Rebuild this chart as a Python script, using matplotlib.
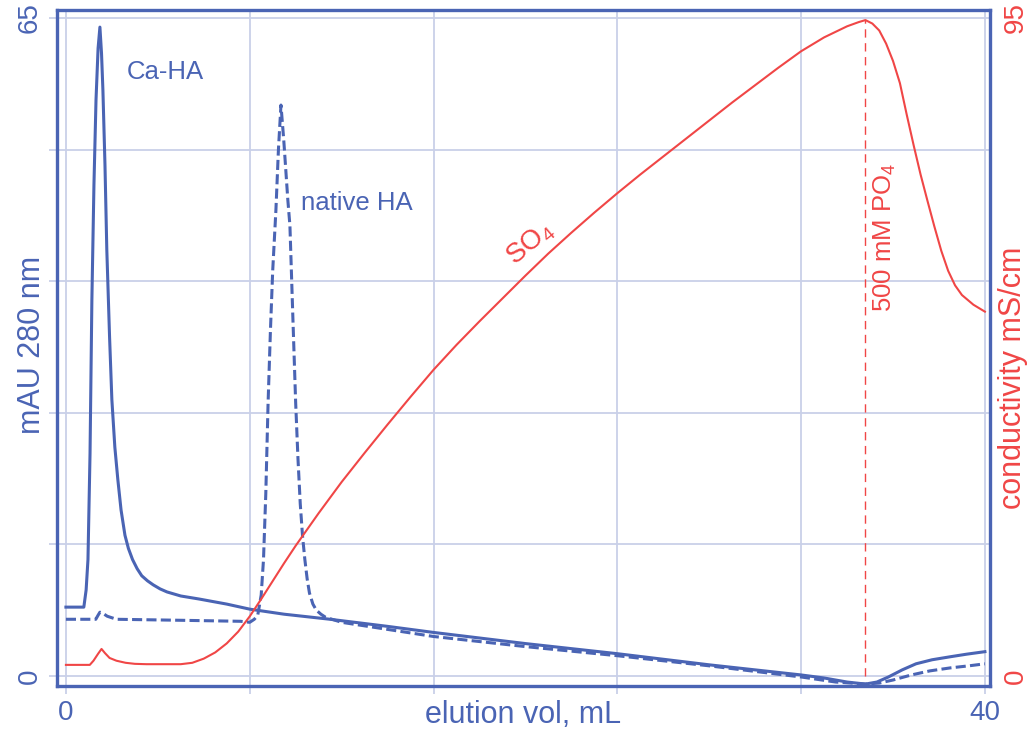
import matplotlib
matplotlib.use("Agg")
import matplotlib.pyplot as plt

# colours
blue = "#4a64b4"
red = "#f04646"
grid_col = "#c9d0e8"

plt.rcParams["font.family"] = ["Liberation Sans", "DejaVu Sans"]
plt.rcParams["mathtext.fontset"] = "custom"
plt.rcParams["mathtext.rm"] = "Liberation Sans"

# Ca-HA trace (solid), mAU
ca_x = [0, 0.78, 0.88, 0.96, 1.05, 1.13, 1.22, 1.31, 1.4, 1.48, 1.55, 1.61, 1.7, 1.78,
        1.9, 2.0, 2.13, 2.26, 2.4, 2.57, 2.72, 2.9, 3.1, 3.3, 3.55, 3.8, 4.1, 4.4,
        5.0, 5.8, 7.0, 8.0, 9.5, 11.5, 14.0, 16.0, 20.0, 24.0, 28.0, 30.0, 32.0, 33.0,
        34.0, 34.8, 35.3, 35.8, 36.4, 37.0, 37.7, 38.5, 39.2, 40.0]
ca_y = [6.8, 6.8, 8.5, 11.5, 22.0, 37.1, 48.5, 56.9, 62.0, 64.1, 61.5, 57.9, 50.5, 42.1,
        33.5, 27.3, 22.6, 19.4, 16.4, 13.9, 12.6, 11.5, 10.6, 9.9, 9.4, 9.0, 8.6, 8.3,
        7.9, 7.6, 7.1, 6.6, 6.1, 5.6, 4.9, 4.3, 3.2, 2.2, 1.1, 0.6, 0.1, -0.2,
        -0.6, -0.8, -0.6, -0.1, 0.6, 1.2, 1.6, 1.9, 2.15, 2.4]

# native HA trace (dashed), mAU
nat_x = [0, 1.3, 1.4, 1.48, 1.6, 1.8, 2.2, 5.0, 7.6, 8.0, 8.2, 8.35, 8.5, 8.6, 8.7,
         8.8, 8.9, 9.0, 9.14, 9.25, 9.36, 9.48, 9.66, 9.75, 9.87, 10.0, 10.1, 10.2,
         10.3, 10.4, 10.5, 10.6, 10.75, 10.9, 11.1, 11.3, 12.0, 16.0, 20.0, 24.0,
         28.0, 32.0, 33.5, 34.8, 35.4, 36.0, 36.8, 37.6, 38.5, 39.3, 40.0]
nat_y = [5.6, 5.6, 6.0, 6.3, 6.2, 5.9, 5.6, 5.5, 5.4, 5.3, 5.6, 6.0, 8.0, 11.5, 18.0,
         27.0, 34.0, 40.0, 46.0, 52.0, 56.4, 53.0, 47.0, 44.5, 36.0, 27.0, 21.5, 17.0,
         13.8, 11.5, 9.6, 8.2, 7.1, 6.5, 6.1, 5.8, 5.3, 3.9, 2.9, 2.0,
         1.0, -0.1, -0.6, -0.8, -0.7, -0.4, 0.1, 0.5, 0.8, 1.0, 1.2]

# conductivity (SO4 gradient then 500 mM PO4), mS/cm
cond_x = [0, 1.04, 1.2, 1.4, 1.55, 1.7, 1.9, 2.2, 2.6, 3.0, 3.5, 5.0, 5.5, 6.0, 6.5,
          7.0, 7.5, 8.0, 8.5, 9.0, 9.5, 10.0, 11.0, 12.0, 13.0, 14.0, 15.0, 16.0,
          17.0, 18.0, 19.0, 20.0, 21.0, 22.0, 23.0, 24.0, 25.0, 26.0, 27.0, 28.0,
          29.0, 30.0, 31.0, 32.0, 33.0, 34.0, 34.5, 34.8, 35.1, 35.4, 35.7, 36.0,
          36.3, 36.6, 36.9, 37.2, 37.5, 37.8, 38.1, 38.4, 38.7, 39.0, 39.5, 40.0]
cond_y = [1.6, 1.6, 2.2, 3.2, 3.9, 3.3, 2.6, 2.2, 1.9, 1.75, 1.7, 1.7, 1.9, 2.5, 3.4,
          4.7, 6.4, 8.6, 11.1, 13.7, 16.3, 18.8, 23.5, 28.0, 32.2, 36.3, 40.3, 44.2,
          47.8, 51.2, 54.5, 57.8, 61.0, 64.0, 66.9, 69.7, 72.4, 75.0, 77.6, 80.2,
          82.8, 85.3, 87.8, 90.2, 92.2, 93.8, 94.4, 94.7, 94.2, 93.2, 91.3, 88.8,
          85.6, 81.0, 76.6, 72.4, 68.6, 64.9, 61.4, 58.5, 56.4, 55.0, 53.6, 52.6]

po4_x = 34.8

fig = plt.figure(figsize=(10.28, 7.3), dpi=100)
ax = fig.add_axes([0.0554, 0.0603, 0.9076, 0.926])

ax.plot(ca_x, ca_y, color=blue, lw=2.2, solid_joinstyle="round", zorder=3)
ax.plot(nat_x, nat_y, color=blue, lw=2.2, ls=(0, (3.3, 1.4)), zorder=3)

ax.set_xlim(-0.39, 40.22)
ax.set_ylim(-0.99, 65.79)
ax.set_xticks([0, 8, 16, 24, 32, 40])
ax.set_xticklabels(["0", "", "", "", "", "40"])
ax.set_yticks([0, 13, 26, 39, 52, 65])
ax.set_yticklabels(["0", "", "", "", "", "65"], rotation=90, va="center")
ax.grid(True, color=grid_col, lw=1.3)
ax.set_axisbelow(True)
ax.tick_params(axis="both", colors=grid_col, labelcolor=blue, labelsize=20,
               length=6, width=1.3, direction="out")
ax.tick_params(axis="x", pad=4)
ax.tick_params(axis="y", pad=4)
for s in ax.spines.values():
    s.set_color(blue)
    s.set_linewidth(2.4)

ax.set_xlabel("elution vol, mL", color=blue, fontsize=22, va="center")
ax.xaxis.set_label_coords(0.5, -0.043)
ax.set_ylabel("mAU 280 nm", color=blue, fontsize=22, va="center")
ax.yaxis.set_label_coords(-0.027, 0.504)

ax.text(2.65, 59.7, "Ca-HA", color=blue, fontsize=18.5, ha="left", va="center")
ax.text(10.23, 46.7, "native HA", color=blue, fontsize=18.5, ha="left", va="center")

ax2 = ax.twinx()
ax2.plot(cond_x, cond_y, color=red, lw=1.5, zorder=4)
ax2.vlines(po4_x, 0, 94.7, color=red, lw=1.0, linestyles=(0, (6, 4)))
ax2.set_ylim(-0.99 * 95 / 65, 65.79 * 95 / 65)
ax2.set_yticks([0, 95])
ax2.set_yticklabels(["0", "95"], rotation=90, va="center")
ax2.tick_params(axis="y", length=0, pad=9, labelcolor=red, labelsize=20)
for s in ax2.spines.values():
    s.set_visible(False)
ax2.set_ylabel("conductivity mS/cm", color=red, fontsize=22, va="center", rotation=90)
ax2.yaxis.set_label_coords(1.025, 0.456)

ax2.text(20.2, 62.5, "SO$_4$", color=red, fontsize=20, rotation=40,
         ha="center", va="center", rotation_mode="anchor")
ax2.text(35.65, 52.6, "500 mM PO$_4$", color=red, fontsize=18.5, rotation=90,
         ha="center", va="bottom")

fig.savefig("out.png", dpi=100)
